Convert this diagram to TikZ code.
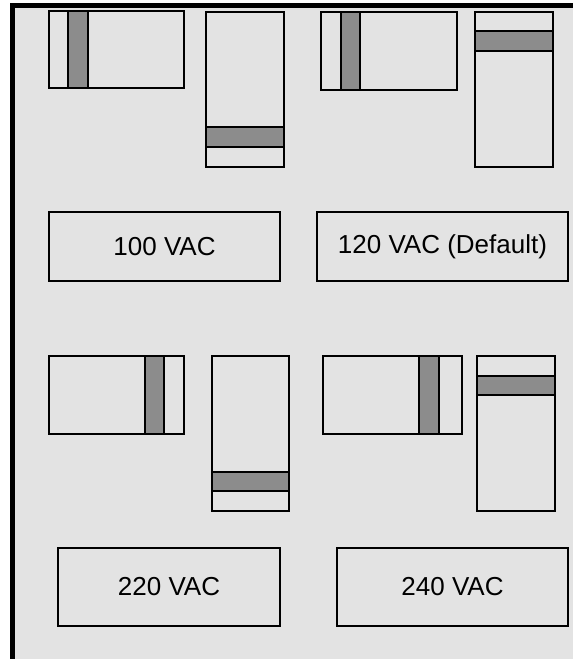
\documentclass[tikz,border=0pt]{standalone}
\usepackage{fontspec}
\setmainfont{Liberation Sans}
\definecolor{panelgray}{HTML}{E3E3E3}
\definecolor{slidergray}{HTML}{8C8C8C}
\begin{document}
\begin{tikzpicture}[x=1pt, y=-1pt,
    switchbox/.style={draw, line width=1.2pt, inner sep=0pt, outer sep=0pt},
    slider/.style={draw, fill=slidergray, line width=1.2pt, inner sep=0pt, outer sep=0pt},
    voltbox/.style={draw, line width=1.2pt, inner sep=0pt, outer sep=0pt, font=\fontsize{26}{31}\selectfont}]
    \useasboundingbox (0,0) rectangle (573,659);
    % Panel background and edges
    \fill[panelgray] (10,3) rectangle (573,659);
    \draw[line width=4.5pt] (12.25,659) -- (12.25,5.25) -- (573,5.25);

    % 100 VAC - top left
    \node[switchbox, minimum width=135pt, minimum height=77pt] (selA) at (116.5,49.5) {};
    \node[slider, minimum width=20pt, minimum height=77pt] (slideA) at (78,49.5) {};
    \node[switchbox, minimum width=78pt, minimum height=155pt] (rangeA) at (245,89.5) {};
    \node[slider, minimum width=78pt, minimum height=20pt] (barA) at (245,137) {};
    \node[voltbox, minimum width=231pt, minimum height=69pt] (v100) at (164.5,246.5) {100 VAC};

    % 120 VAC - top right
    \node[switchbox, minimum width=136pt, minimum height=78pt] (selB) at (389,51) {};
    \node[slider, minimum width=19pt, minimum height=78pt] (slideB) at (350.5,51) {};
    \node[switchbox, minimum width=78pt, minimum height=155pt] (rangeB) at (514,89.5) {};
    \node[slider, minimum width=78pt, minimum height=20pt] (barB) at (514,41) {};
    \node[voltbox, minimum width=251pt, minimum height=69pt] (v120) at (442.5,246.5) {120 VAC (Default)};

    % 220 VAC - bottom left
    \node[switchbox, minimum width=135pt, minimum height=78pt] (selC) at (116.5,395) {};
    \node[slider, minimum width=19pt, minimum height=78pt] (slideC) at (154.5,395) {};
    \node[switchbox, minimum width=77pt, minimum height=155pt] (rangeC) at (250.5,433.5) {};
    \node[slider, minimum width=77pt, minimum height=19pt] (barC) at (250.5,481.5) {};
    \node[voltbox, minimum width=222pt, minimum height=78pt] (v220) at (169,587) {220 VAC};

    % 240 VAC - bottom right
    \node[switchbox, minimum width=139pt, minimum height=78pt] (selD) at (392.5,395) {};
    \node[slider, minimum width=20pt, minimum height=78pt] (slideD) at (429,395) {};
    \node[switchbox, minimum width=78pt, minimum height=155pt] (rangeD) at (516,433.5) {};
    \node[slider, minimum width=78pt, minimum height=19pt] (barD) at (516,385.5) {};
    \node[voltbox, minimum width=231pt, minimum height=78pt] (v240) at (452.5,587) {240 VAC};
\end{tikzpicture}
\end{document}
